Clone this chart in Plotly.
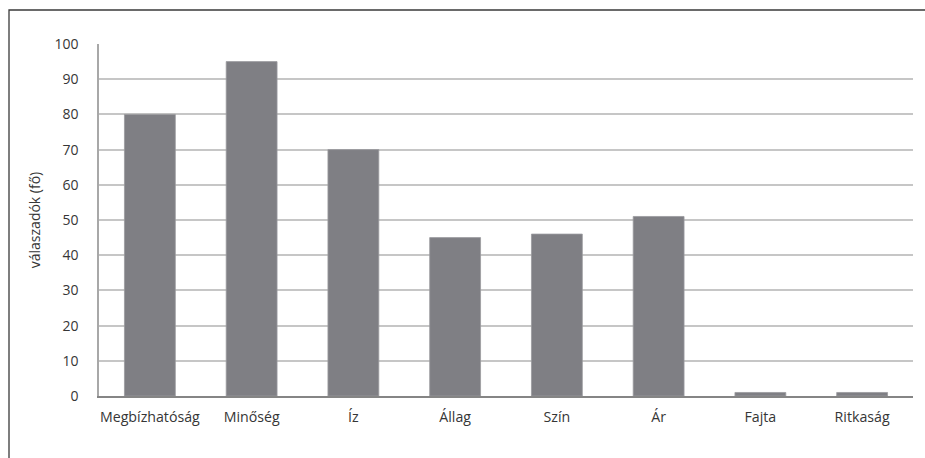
import plotly.graph_objects as go

categories = ["Megbízhatóság", "Minőség", "Íz", "Állag", "Szín", "Ár", "Fajta", "Ritkaság"]
respondents = [80, 95, 70, 45, 46, 51, 1, 1]
y_ticks = [0, 10, 20, 30, 40, 50, 60, 70, 80, 90, 100]

W, H = 925, 458
ML, MR, MT, MB = 99, 12, 44, 62
pw = W - ML - MR
ph = H - MT - MB

fig = go.Figure(
    go.Bar(
        x=categories,
        y=respondents,
        marker=dict(color="#7f7f84", line=dict(color="#9a9a9e", width=0.8)),
        width=0.5,
    )
)

# outer frame of the chart area
fig.add_shape(
    type="rect", xref="paper", yref="paper",
    x0=(9 - ML) / pw, x1=(W + 20 - ML) / pw,
    y0=-(H + 20 - MT - ph) / ph, y1=1 + (MT - 10) / ph,
    line=dict(color="#3a3a3a", width=1.3), fillcolor="rgba(0,0,0,0)", layer="below",
)

fig.update_layout(
    width=W, height=H,
    margin=dict(l=ML, r=MR, t=MT, b=MB),
    paper_bgcolor="white", plot_bgcolor="white",
    font=dict(family="Open Sans", size=14, color="#363636"),
    showlegend=False,
    bargap=0.5,
    xaxis=dict(
        showgrid=False, ticks="", showline=True, linecolor="#858585", linewidth=2,
        tickfont=dict(size=14.2), ticklabelstandoff=7,
    ),
    yaxis=dict(
        range=[0, 100], tickvals=y_ticks, showgrid=True, gridcolor="#c6c6c6", gridwidth=1.5,
        showline=True, linecolor="#a8a8a8", linewidth=1.5, ticks="", zeroline=False,
        tickfont=dict(size=14), ticklabelstandoff=16,
        title=dict(text="válaszadók (fő)", font=dict(size=14), standoff=11),
    ),
)

fig.write_html("out.html")
